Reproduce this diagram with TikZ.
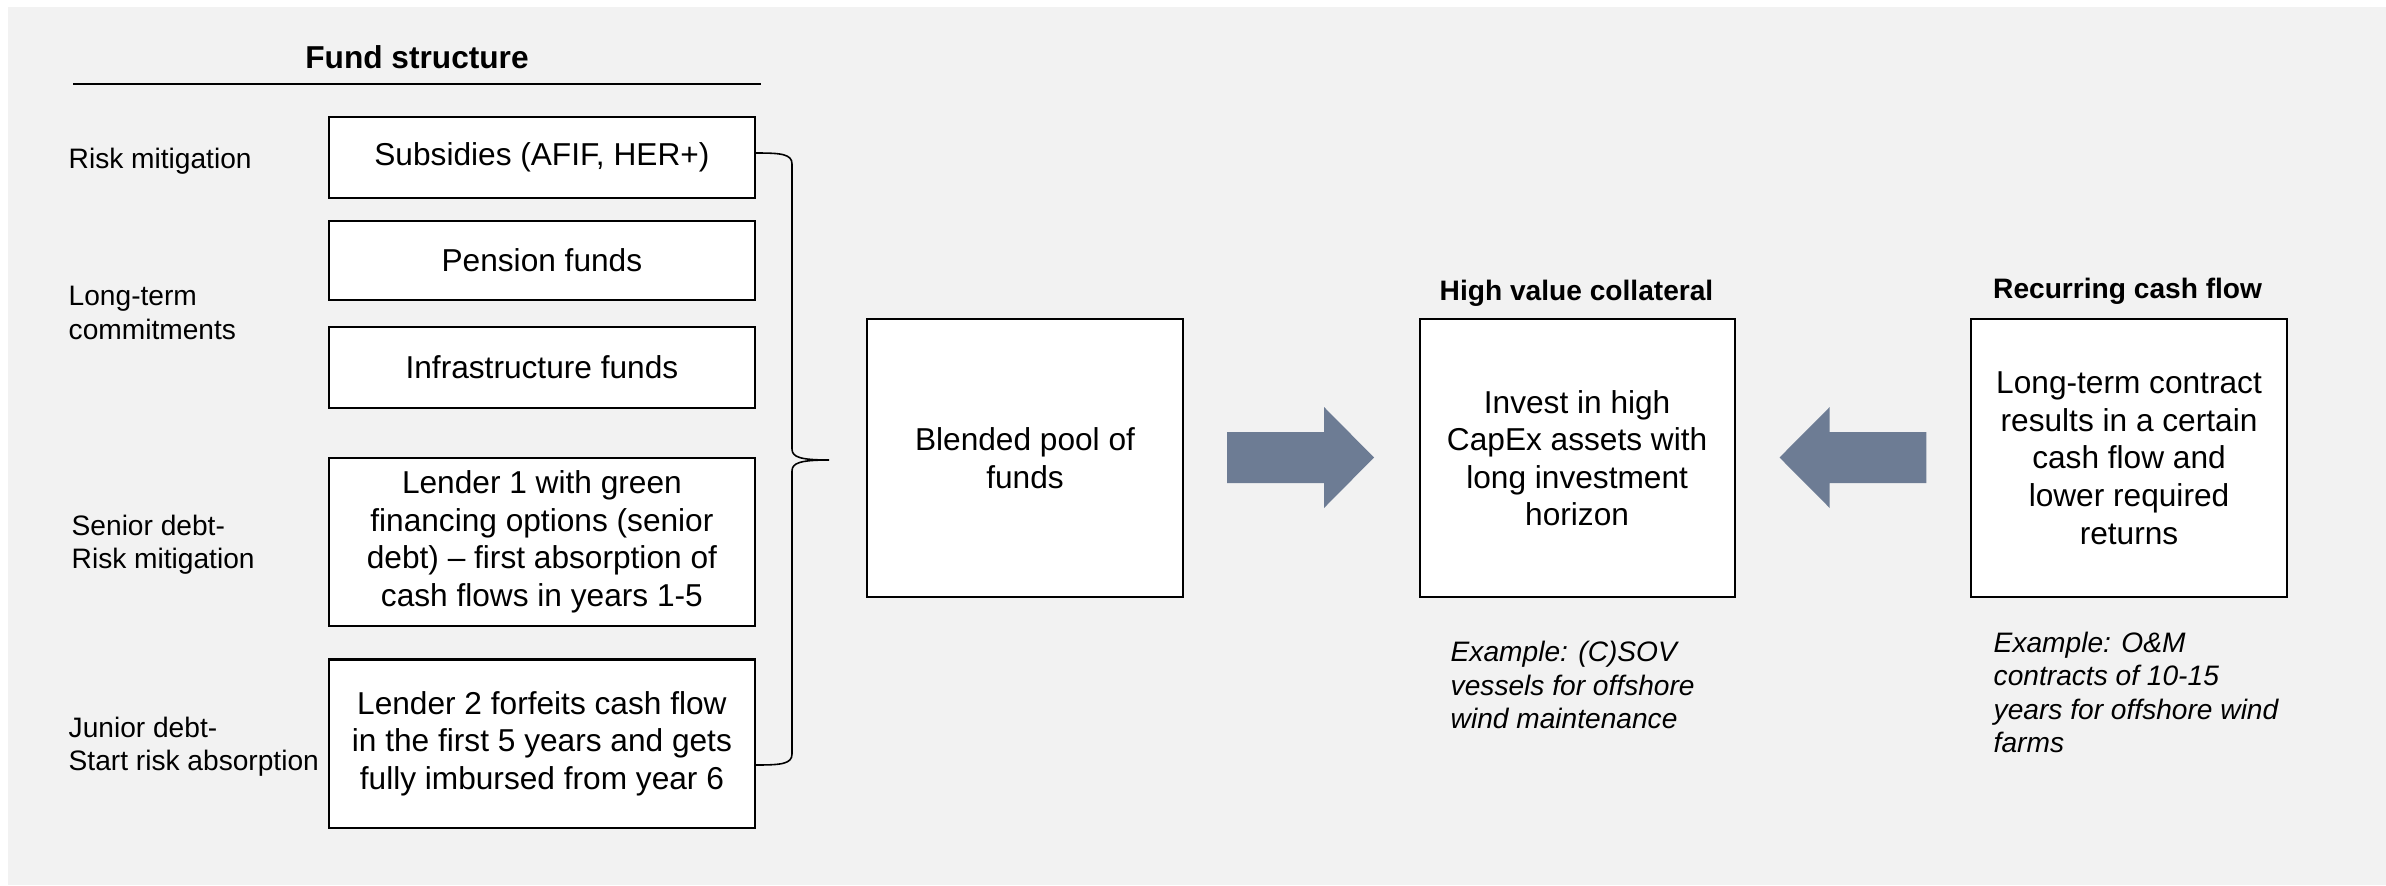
\documentclass[tikz,border=0pt]{standalone}
\usepackage{fontspec}
\setmainfont{Liberation Sans}
\definecolor{bg}{HTML}{F2F2F2}
\definecolor{arr}{HTML}{6D7C94}
\begin{document}
\begin{tikzpicture}[x=0.01cm,y=-0.01cm,
  box/.style={draw=black, line width=0.6pt, fill=white, align=center, inner sep=0pt,
    font=\fontsize{9}{10.7}\selectfont},
  lbl/.style={anchor=west, align=left, inner sep=0pt, font=\fontsize{8}{9.5}\selectfont},
  ttl/.style={inner sep=0pt, font=\fontsize{8}{9.6}\selectfont\bfseries},
  exm/.style={anchor=west, align=left, inner sep=0pt, font=\fontsize{8}{9.5}\selectfont\itshape},
  blockarrow/.style={fill=arr, draw=none}]
\useasboundingbox (0,0) rectangle (2386,885);
\fill[bg] (8,7) rectangle (2386,885);

% title
\node[inner sep=0pt, font=\fontsize{9}{10.8}\selectfont\bfseries] (ftitle) at (417,57) {Fund structure};
\draw[line width=0.35pt] (73,84) -- (761,84);

% left labels
\node[lbl] (l1) at (68,161) {Risk mitigation};
\node[lbl] (l2) at (68,313) {Long-term\\commitments};
\node[lbl] (l3) at (71,545) {Senior debt-\\Risk mitigation};
\node[lbl] (l4) at (68,747) {Junior debt-\\Start risk absorption};

% fund boxes
\node[box, minimum width=4.263cm, minimum height=0.81cm] (sub) at (541.9,157.5) {Subsidies (AFIF, HER+)};
\node[box, minimum width=4.263cm, minimum height=0.792cm] (pen) at (541.9,260.2) {Pension funds};
\node[box, minimum width=4.263cm, minimum height=0.806cm] (inf) at (541.9,367.5) {Infrastructure funds};
\node[box, minimum width=4.263cm, minimum height=1.679cm] (len1) at (541.9,541.7)
  {Lender 1 with green\\financing options (senior\\debt) -- first absorption of\\cash flows in years 1-5};
\node[box, minimum width=4.263cm, minimum height=1.685cm] (len2) at (541.9,743.8)
  {Lender 2 forfeits cash flow\\in the first 5 years and gets\\fully imbursed from year 6};

% brace
\coordinate (btop) at (756,153);
\coordinate (btip) at (829,460);
\coordinate (bbot) at (756,765);
\draw[line width=0.45pt] (btop) .. controls (781,153) and (792,154) .. (792,164)
  -- (792,449) .. controls (792,457) and (800,460) .. (btip)
  .. controls (800,460) and (792,463) .. (792,471)
  -- (792,754) .. controls (792,764) and (781,765) .. (bbot);

% middle boxes
\node[box, minimum width=3.151cm, minimum height=2.775cm] (blend) at (1025,458.2) {Blended pool of\\funds};
\node[box, minimum width=3.148cm, minimum height=2.775cm] (inv) at (1577.1,458.2)
  {Invest in high\\CapEx assets with\\long investment\\horizon};
\node[box, minimum width=3.16cm, minimum height=2.775cm] (rec) at (2129,458.2)
  {Long-term contract\\results in a certain\\cash flow and\\lower required\\returns};

% titles
\node[ttl] (tinv) at (1576.5,293) {High value collateral};
\node[ttl] (trec) at (2127.6,291) {Recurring cash flow};

% block arrows
\fill[blockarrow] (1227,432) -- (1324,432) -- (1324,407) -- (1374,457.5) -- (1324,508) -- (1324,483) -- (1227,483) -- cycle;
\fill[blockarrow] (1926.4,432) -- (1829.7,432) -- (1829.7,407) -- (1779.5,457.5) -- (1829.7,508) -- (1829.7,483) -- (1926.4,483) -- cycle;

% examples
\node[exm] (ex1) at (1450,685) {Example: (C)SOV\\vessels for offshore\\wind maintenance};
\node[exm] (ex2) at (1993,692.5) {Example: O\&M\\contracts of 10-15\\years for offshore wind\\farms};
\end{tikzpicture}
\end{document}
